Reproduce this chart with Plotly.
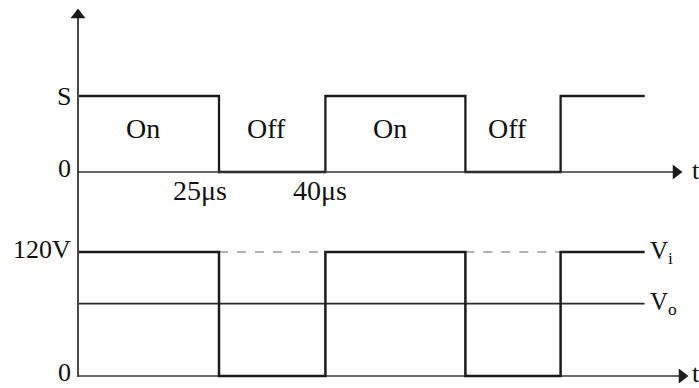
import plotly.graph_objects as go

# ---- data (schematic time positions in µs, as drawn) ----
t_edges = [0, 25, 44, 69, 86, 101]          # switching instants drawn on the diagram
switch_state = [1, 0, 1, 0, 1]               # 1 = On, 0 = Off for each interval
state_labels = ["On", "Off", "On", "Off"]
time_labels = ["25μs", "40μs"]
S_level = 1
Vi_level = 120
Vo_level = 70

# ---- geometry (pixel mapping) ----
W, H = 699, 388
x0_px, px_per_t = 79, 5.6
top_zero_px, top_S_px = 172, 96
bot_zero_px, bot_120_px = 376, 252
top_scale = (top_zero_px - top_S_px) / S_level
bot_scale = (bot_zero_px - bot_120_px) / Vi_level

def tx(px):
    return (px - x0_px) / px_per_t

def ty(px):
    return (top_zero_px - px) / top_scale

def by(px):
    return (bot_zero_px - px) / bot_scale

# step arrays
xs, ys_top, ys_bot = [], [], []
for i, s in enumerate(switch_state):
    xs += [t_edges[i], t_edges[i + 1]]
    ys_top += [s * S_level, s * S_level]
    ys_bot += [s * Vi_level, s * Vi_level]

ink = "#1c1c1c"
fig = go.Figure()

# top: switch waveform
fig.add_trace(go.Scatter(x=xs, y=ys_top, mode="lines", line=dict(color=ink, width=2.3), yaxis="y"))
# top time axis with arrow
fig.add_trace(go.Scatter(x=[tx(78), tx(676)], y=[0, 0], mode="lines",
                         line=dict(color="#333333", width=1.7), yaxis="y"))
fig.add_trace(go.Scatter(x=[tx(676)], y=[0], mode="markers",
                         marker=dict(symbol="triangle-right", size=13, color=ink), yaxis="y"))
# vertical axis with arrow
fig.add_trace(go.Scatter(x=[tx(78), tx(78)], y=[ty(377), ty(16)], mode="lines",
                         line=dict(color=ink, width=1.6), yaxis="y"))
fig.add_trace(go.Scatter(x=[tx(78)], y=[ty(15)], mode="markers",
                         marker=dict(symbol="triangle-up", size=13, color=ink), yaxis="y"))

# bottom: dashed Vi during off intervals
for i, s in enumerate(switch_state):
    if s == 0:
        fig.add_trace(go.Scatter(x=[t_edges[i], t_edges[i + 1]], y=[Vi_level, Vi_level], mode="lines",
                                 line=dict(color="#666666", width=1.2, dash="dash"), yaxis="y2"))
# Vo line
fig.add_trace(go.Scatter(x=[t_edges[0], t_edges[-1]], y=[Vo_level, Vo_level], mode="lines",
                         line=dict(color="#2a2a2a", width=1.8), yaxis="y2"))
# bottom time axis
fig.add_trace(go.Scatter(x=[tx(78), tx(682)], y=[0, 0], mode="lines",
                         line=dict(color="#3a3a3a", width=1.4), yaxis="y2"))
fig.add_trace(go.Scatter(x=[tx(682)], y=[0], mode="markers",
                         marker=dict(symbol="triangle-right", size=13, color=ink), yaxis="y2"))
# chopped voltage waveform
fig.add_trace(go.Scatter(x=xs, y=ys_bot, mode="lines", line=dict(color=ink, width=2.5), yaxis="y2"))

font = dict(family="Liberation Serif, Times New Roman, serif", size=26, color="#111111")
bigfont = dict(font, size=28)
ann = []
# On / Off labels
for i, lab in enumerate(state_labels):
    ann.append(dict(x=(t_edges[i] + t_edges[i + 1]) / 2 - 1.0, y=ty(128), yref="y", text=lab,
                    showarrow=False, font=bigfont))
# time labels
ann.append(dict(x=tx(200), y=ty(190), yref="y", text=time_labels[0], showarrow=False, font=bigfont))
ann.append(dict(x=tx(320), y=ty(190), yref="y", text=time_labels[1], showarrow=False, font=bigfont))
# level labels
ann.append(dict(x=tx(73), y=S_level, yref="y", text="S", showarrow=False, font=font, xanchor="right"))
ann.append(dict(x=tx(73), y=ty(168), yref="y", text="0", showarrow=False, font=font, xanchor="right"))
ann.append(dict(x=tx(73), y=by(249), yref="y2", text="120V", showarrow=False, font=font, xanchor="right"))
ann.append(dict(x=tx(73), y=by(372), yref="y2", text="0", showarrow=False, font=font, xanchor="right"))
# t labels
ann.append(dict(x=tx(690), y=ty(170), yref="y", text="t", showarrow=False, font=font, xanchor="left"))
ann.append(dict(x=tx(690), y=by(373), yref="y2", text="t", showarrow=False, font=font, xanchor="left"))
# Vi, Vo
vfont = dict(font, size=25)
ann.append(dict(x=tx(648), y=Vi_level, yref="y2", text="V<sub>i</sub>", showarrow=False, font=vfont, xanchor="left"))
ann.append(dict(x=tx(648), y=Vo_level, yref="y2", text="V<sub>o</sub>", showarrow=False, font=vfont, xanchor="left"))

fig.update_layout(
    width=W, height=H, margin=dict(l=0, r=0, t=0, b=0, pad=0),
    paper_bgcolor="white", plot_bgcolor="white", showlegend=False,
    xaxis=dict(range=[tx(0), tx(W)], visible=False, fixedrange=True),
    yaxis=dict(range=[ty(H), ty(0)], visible=False, domain=[0, 1]),
    yaxis2=dict(range=[by(H), by(0)], visible=False, overlaying="y", domain=[0, 1]),
    annotations=ann,
)
fig.write_html("out.html", config={"displayModeBar": False},
               post_script="document.body.style.margin='0px';document.body.style.overflow='hidden';")
